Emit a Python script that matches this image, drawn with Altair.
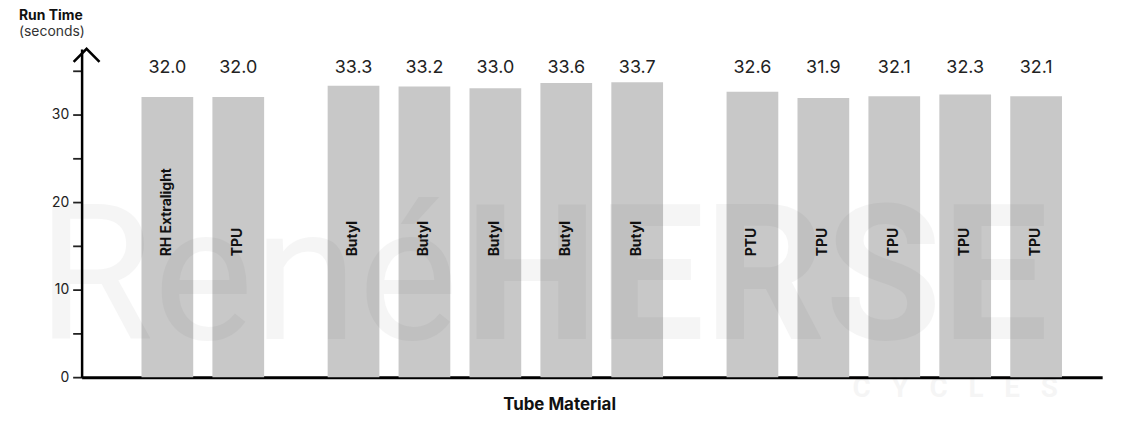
import altair as alt
import pandas as pd

# ---- data ----
materials = ["RH Extralight", "TPU", "Butyl", "Butyl", "Butyl", "Butyl", "Butyl",
             "PTU", "TPU", "TPU", "TPU", "TPU"]
run_times = [32.0, 32.0, 33.3, 33.2, 33.0, 33.6, 33.7, 32.6, 31.9, 32.1, 32.3, 32.1]
groups = [0, 0, 1, 1, 1, 1, 1, 2, 2, 2, 2, 2]
y_ticks = [0, 5, 10, 15, 20, 25, 30, 35]

# slot positions: one slot per bar plus an extra gap between groups
GROUP_GAP = 0.625
positions = [i + g * GROUP_GAP for i, g in enumerate(groups)]

df = pd.DataFrame({"material": materials, "time": run_times, "pos": positions})

X_MIN, X_MAX = -82 / 72, (1108 - 164) / 72
Y_MAX = 37.5
FONT = "Inter"

x_scale = alt.Scale(domain=[X_MIN, X_MAX], nice=False, zero=False)
y_scale = alt.Scale(domain=[0, Y_MAX], nice=False)

base = alt.Chart(df)

bars = base.mark_bar(width=52, color="#c8c8c8").encode(
    x=alt.X("pos:Q", scale=x_scale,
            axis=alt.Axis(title="Tube Material", labels=False, ticks=False, grid=False,
                          domainColor="#000", domainWidth=3,
                          titleFontSize=17, titleFontWeight="bold", titleColor="#111",
                          titleFont=FONT, titlePadding=20, titleX=480, titleAlign="center")),
    y=alt.Y("time:Q", scale=y_scale,
            axis=alt.Axis(title=None, values=y_ticks,
                          labelExpr="datum.value % 10 === 0 ? datum.label : ''",
                          grid=False, domainColor="#000", domainWidth=2.5,
                          tickColor="#222", tickWidth=1.8, tickSize=9,
                          labelFontSize=14, labelPadding=4, labelColor="#222",
                          labelFont=FONT)),
)

values = base.mark_text(fontSize=18, color="#222", font=FONT, baseline="middle").encode(
    x="pos:Q",
    y=alt.datum(35.3),
    text=alt.Text("time:Q", format=".1f"),
)

names = base.mark_text(fontSize=14, fontWeight="bold", color="#111", font=FONT,
                       angle=270, align="left", baseline="middle").encode(
    x="pos:Q",
    y=alt.datum(13.8),
    text="material:N",
)

arrow = alt.Chart(pd.DataFrame({"a": [0]})).mark_point(
    shape="M-1,1L0,0L1,1", size=676, filled=False, stroke="#000",
    strokeWidth=2.6, opacity=1, clip=False
).encode(x=alt.datum(X_MIN), y=alt.datum(Y_MAX))

# faint watermark (decoration), drawn over the bars like the reference's logo
NB = "\u00a0\u00a0\u00a0"
WM_OPACITY = 0.035
wm_src = alt.Chart(pd.DataFrame({"a": [0]}))
wm1 = wm_src.mark_text(text="René", font="Roboto", fontSize=190, align="left",
                       baseline="alphabetic", color="#000", opacity=WM_OPACITY).encode(
    x=alt.value(-45), y=alt.value(292))
wm2 = wm_src.mark_text(text="HERSE", font="Roboto", fontWeight="bold", fontSize=190,
                       align="left", baseline="alphabetic", color="#000",
                       opacity=WM_OPACITY).encode(x=alt.value(385), y=alt.value(292))
wm3 = wm_src.mark_text(text=NB.join("CYCLES"), font="Roboto", fontWeight="bold",
                       fontSize=28, align="left", baseline="alphabetic",
                       color="#000", opacity=WM_OPACITY).encode(x=alt.value(775), y=alt.value(350))

chart = alt.layer(bars, values, names, arrow, wm1, wm2, wm3).properties(
    width=1026,
    height=330,
    autosize=alt.AutoSizeParams(type="none"),
    padding={"left": 74, "top": 40, "right": 30, "bottom": 50},
    title=alt.TitleParams(text="Run Time", subtitle="(seconds)", anchor="start",
                          frame="group", align="left", dx=-63, offset=5, fontSize=14,
                          fontWeight="bold", color="#111", font=FONT,
                          subtitleFont=FONT, subtitleFontSize=14, subtitleColor="#333",
                          subtitlePadding=2),
).configure_view(stroke=None)

chart.save("out.html", embed_options={"renderer": "svg", "actions": False})
